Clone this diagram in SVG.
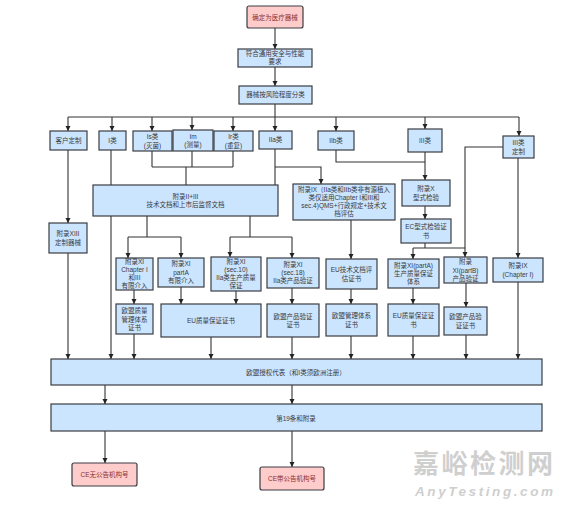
<svg xmlns="http://www.w3.org/2000/svg" width="565" height="505" viewBox="0 0 565 505">
<defs>
<marker id="a" viewBox="0 0 10 10" refX="10" refY="5" markerWidth="5.5" markerHeight="5.5" markerUnits="userSpaceOnUse" orient="auto"><path d="M0,0 L10,5 L0,10 z" fill="#222"/></marker>
<style>
.b{fill:#cce5ff;stroke:#3a3d42;stroke-width:1.2}
.p{fill:#ffcccc;stroke:#3a3d42;stroke-width:1.2}
text{font-family:"Liberation Sans","Noto Sans CJK SC",sans-serif;font-size:6.5px;fill:#3a3a3a;text-anchor:middle}
.pt{fill:#8a3030}
.l{fill:none;stroke:#333;stroke-width:1.1;marker-end:url(#a)}
.n{fill:none;stroke:#333;stroke-width:1.1}
.wm{fill:#cfcfcf;text-anchor:start}
</style>
</defs>
<rect width="565" height="505" fill="#fff"/>
<g id="connectors">
<path class="l" d="M275,28 V49"/>
<path class="l" d="M275,67 V86"/>
<path class="n" d="M275,104 V117 M68,117 H519"/>
<path class="l" d="M68,117 V131"/>
<path class="l" d="M112,117 V131"/>
<path class="l" d="M152,117 V131"/>
<path class="l" d="M192,117 V130"/>
<path class="l" d="M233,117 V131"/>
<path class="l" d="M275,117 V131"/>
<path class="l" d="M336,117 V131"/>
<path class="l" d="M425,117 V129"/>
<path class="l" d="M519,117 V136"/>
<path class="l" d="M68,150 V223"/>
<path class="l" d="M68,253 V359"/>
<path class="l" d="M111,150 V186 C101,190 99,205 107,212"/>
<path class="l" d="M111,216 V359"/>
<path class="n" d="M152,151 V167 M192,151 V167 M233,151 V167 M152,167 H233"/>
<path class="l" d="M186,167 V186 C160,186 138,196 147,212"/>
<path class="n" d="M147,216 V237 M128,237 H181"/>
<path class="l" d="M128,237 V258"/>
<path class="l" d="M181,237 V258"/>
<path class="l" d="M275,149 V186 C255,187 244,200 250,212"/>
<path class="l" d="M275,167 H321 V184"/>
<path class="n" d="M250,216 V237 M230,237 H292"/>
<path class="l" d="M230,237 V257"/>
<path class="l" d="M292,237 V258"/>
<path class="n" d="M336,150 V162 H425"/>
<path class="l" d="M425,152 V180"/>
<path class="l" d="M351,220 V259"/>
<path class="l" d="M351,289 V304"/>
<path class="l" d="M351,336 V359"/>
<path class="l" d="M425,206 V219"/>
<path class="n" d="M425,243 V248 M413,248 H465"/>
<path class="l" d="M413,248 V259"/>
<path class="l" d="M503,147 H465 V257"/>
<path class="l" d="M518,158 V258"/>
<path class="l" d="M413,288 V304"/>
<path class="l" d="M413,336 V359"/>
<path class="l" d="M466,283 V307"/>
<path class="l" d="M466,335 V359"/>
<path class="l" d="M518,282 V359"/>
<path class="l" d="M134,290 V304"/>
<path class="l" d="M134,334 V359"/>
<path class="l" d="M181,287 V304"/>
<path class="l" d="M236,291 V304"/>
<path class="l" d="M211,337 V359"/>
<path class="l" d="M292,288 V304"/>
<path class="l" d="M292,337 V359"/>
<path class="l" d="M110,359 C96,362 94,375 102,383"/>
<path class="l" d="M105,385 V404"/>
<path class="l" d="M105,404 C90,407 88,424 105,429"/>
<path class="l" d="M105,431 V463"/>
<path class="l" d="M292,385 V404"/>
<path class="l" d="M292,431 V467"/>
</g>
<g id="n-start"><rect class="p" x="247" y="6" width="56" height="22" rx="2"/><text class="pt" x="275" y="19.5">确定为医疗器械</text></g>
<g id="n-req"><rect class="b" x="238" y="49" width="74" height="18"/><text x="275" y="56.3">符合通用安全与性能</text><text x="275" y="64.3">要求</text></g>
<g id="n-class"><rect class="b" x="239" y="86" width="73" height="18"/><text x="275.5" y="97.3">器械按风险程度分类</text></g>
<g id="n-custom"><rect class="b" x="50" y="131" width="37" height="19"/><text x="68.5" y="142.8">客户定制</text></g>
<g id="n-I"><rect class="b" x="99" y="131" width="27" height="19"/><text x="112.5" y="142.8">I类</text></g>
<g id="n-Is"><rect class="b" x="133" y="131" width="39" height="20"/><text x="152.5" y="139.3">Is类</text><text x="152.5" y="147.5">(灭菌)</text></g>
<g id="n-Im"><rect class="b" x="173" y="130" width="40" height="21"/><text x="193" y="138.8">Im</text><text x="193" y="147">(测量)</text></g>
<g id="n-Ir"><rect class="b" x="214" y="131" width="39" height="20"/><text x="233.5" y="139.3">Ir类</text><text x="233.5" y="147.5">(重复)</text></g>
<g id="n-IIa"><rect class="b" x="259" y="131" width="33" height="18"/><text x="275.5" y="142.3">IIa类</text></g>
<g id="n-IIb"><rect class="b" x="318" y="131" width="36" height="19"/><text x="336" y="142.8">IIb类</text></g>
<g id="n-III"><rect class="b" x="408" y="129" width="34" height="23"/><text x="425" y="142.8">III类</text></g>
<g id="n-IIIc"><rect class="b" x="503" y="136" width="31" height="22"/><text x="518.5" y="145.3">III类</text><text x="518.5" y="153.5">定制</text></g>
<g id="n-a2"><rect class="b" x="93" y="185" width="185" height="31"/><text x="185.5" y="198.8">附录II+III</text><text x="185.5" y="207.3">技术文档和上市后监督文档</text></g>
<g id="n-a9"><rect class="b" x="293" y="184" width="102" height="36"/><text x="344" y="192.3">附录IX（IIa类和IIb类非有源植入</text><text x="344" y="200.3">类仅适用Chapter I和III和</text><text x="344" y="208.3">sec.4)QMS+行政规定+技术文</text><text x="344" y="216.3">档评估</text></g>
<g id="n-a10"><rect class="b" x="402" y="180" width="48" height="26"/><text x="426" y="191.3">附录X</text><text x="426" y="199.5">型式检验</text></g>
<g id="n-ec"><rect class="b" x="401" y="219" width="50" height="24"/><text x="426" y="229.3">EC型式检验证</text><text x="426" y="237.5">书</text></g>
<g id="n-a13"><rect class="b" x="49" y="223" width="38" height="30"/><text x="68" y="236.3">附录XIII</text><text x="68" y="244.5">定制器械</text></g>
<g id="n-xi1"><rect class="b" x="116" y="258" width="37" height="32"/><text x="134.5" y="264.3">附录XI</text><text x="134.5" y="272.3">Chapter I</text><text x="134.5" y="280.3">和III</text><text x="134.5" y="288.3">有限介入</text></g>
<g id="n-xi2"><rect class="b" x="158" y="258" width="46" height="29"/><text x="181" y="266.3">附录XI</text><text x="181" y="274.5">partA</text><text x="181" y="282.7">有限介入</text></g>
<g id="n-xi3"><rect class="b" x="211" y="257" width="50" height="34"/><text x="236" y="264.3">附录XI</text><text x="236" y="272.3">(sec.10)</text><text x="236" y="280.3">IIa类生产质量</text><text x="236" y="288.3">保证</text></g>
<g id="n-xi4"><rect class="b" x="267" y="258" width="52" height="30"/><text x="293" y="267">附录XI</text><text x="293" y="275.2">(sec.18)</text><text x="293" y="283.4">IIa类产品验证</text></g>
<g id="n-eutd"><rect class="b" x="326" y="259" width="51" height="30"/><text x="351.5" y="272.3">EU技术文档评</text><text x="351.5" y="280.5">估证书</text></g>
<g id="n-xipa"><rect class="b" x="388" y="259" width="51" height="29"/><text x="413.5" y="267.8">附录XI(partA)</text><text x="413.5" y="276">生产质量保证</text><text x="413.5" y="284.2">体系</text></g>
<g id="n-xipb"><rect class="b" x="444" y="257" width="43" height="26"/><text x="465.5" y="264.3">附录</text><text x="465.5" y="272.5">XI(partB)</text><text x="465.5" y="280.7">产品验证</text></g>
<g id="n-a9c"><rect class="b" x="493" y="258" width="50" height="24"/><text x="518" y="268.3">附录IX</text><text x="518" y="276.5">(Chapter I)</text></g>
<g id="n-c1"><rect class="b" x="116" y="304" width="37" height="30"/><text x="134.5" y="313.3">欧盟质量</text><text x="134.5" y="321.5">管理体系</text><text x="134.5" y="329.7">证书</text></g>
<g id="n-c2"><rect class="b" x="161" y="304" width="100" height="33"/><text x="211" y="322.8">EU质量保证证书</text></g>
<g id="n-c3"><rect class="b" x="267" y="304" width="52" height="33"/><text x="293" y="318.8">欧盟产品验证</text><text x="293" y="327">证书</text></g>
<g id="n-c4"><rect class="b" x="326" y="304" width="51" height="32"/><text x="351.5" y="318.3">欧盟管理体系</text><text x="351.5" y="326.5">证书</text></g>
<g id="n-c5"><rect class="b" x="388" y="304" width="51" height="32"/><text x="413.5" y="318.3">EU质量保证证</text><text x="413.5" y="326.5">书</text></g>
<g id="n-c6"><rect class="b" x="444" y="307" width="43" height="28"/><text x="465.5" y="319.3">欧盟产品验</text><text x="465.5" y="327.5">证证书</text></g>
<g id="n-ar"><rect class="b" x="51" y="359" width="491" height="26"/><text x="296" y="374.5">欧盟授权代表（和I类须欧洲注册）</text></g>
<g id="n-a19"><rect class="b" x="51" y="404" width="491" height="27"/><text x="296" y="420.5">第19条和附录</text></g>
<g id="n-ce1"><rect class="p" x="72" y="463" width="65" height="23" rx="2"/><text class="pt" x="104.5" y="476.8">CE无公告机构号</text></g>
<g id="n-ce2"><rect class="p" x="260" y="467" width="64" height="23" rx="2"/><text class="pt" x="292" y="480.8">CE带公告机构号</text></g>
<g id="watermark"><text class="wm" x="413" y="473" style="font-size:26px;font-weight:bold" textLength="140">嘉峪检测网</text><text class="wm" x="415" y="496" style="font-size:13.5px;font-style:italic;font-weight:bold" textLength="138">AnyTesting.com</text></g>
</svg>
